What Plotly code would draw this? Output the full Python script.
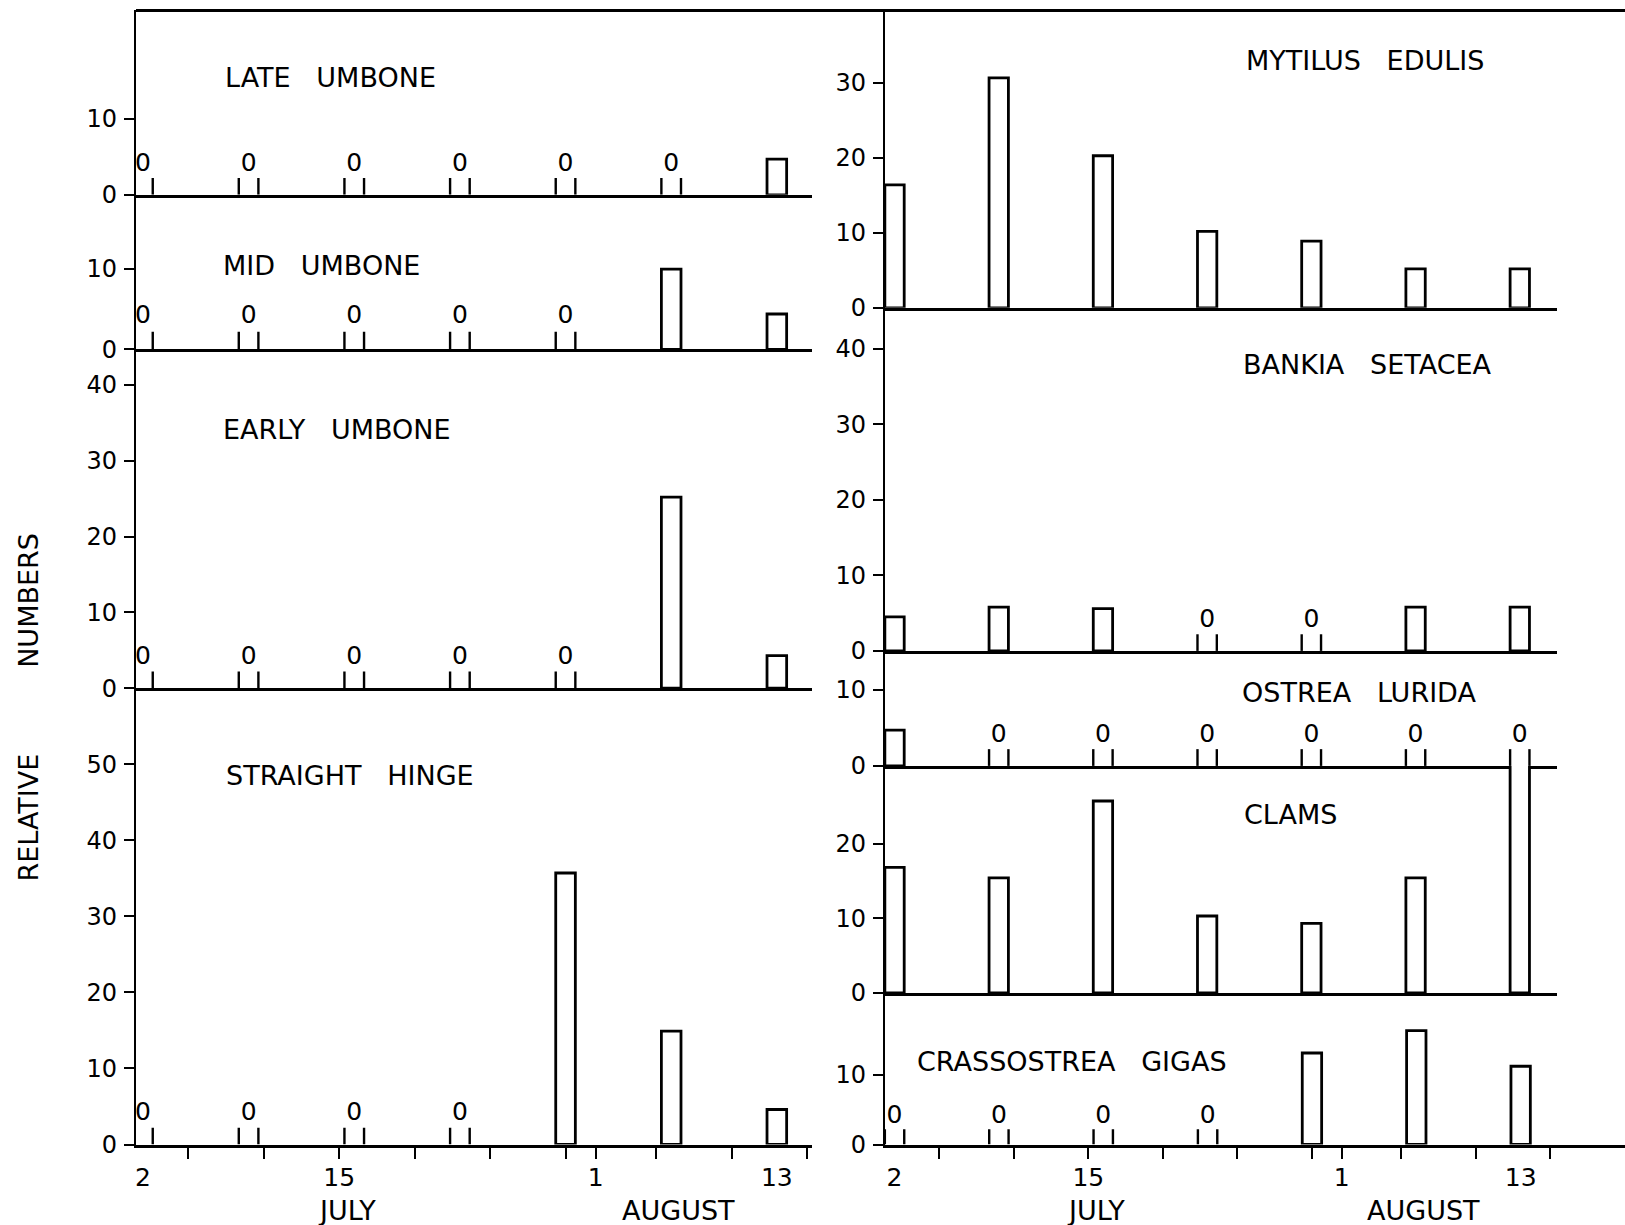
import plotly.graph_objects as go

# ---------------- data ----------------
# sampling dates expressed as day counted from 1 July (Aug d -> 31 + d)
sample_days = [2, 9, 16, 23, 30, 37, 44]          # Jul 2, 9, 16, 23, 30, Aug 6, 13
late_umbone = [0, 0, 0, 0, 0, 0, 4.7]
mid_umbone = [0, 0, 0, 0, 0, 10.0, 4.4]
early_umbone = [0, 0, 0, 0, 0, 25.2, 4.3]
straight_hinge = [0, 0, 0, 0, 35.7, 14.9, 4.6]
mytilus_edulis = [16.4, 30.7, 20.3, 10.2, 8.9, 5.2, 5.2]
bankia_setacea = [4.5, 5.8, 5.6, 0, 0, 5.8, 5.8]
ostrea_lurida = [4.7, 0, 0, 0, 0, 0, 0]
clams = [16.8, 15.4, 25.7, 10.3, 9.3, 15.4, 31.0]   # last value runs off scale
crassostrea_gigas = [0, 0, 0, 0, 13.1, 16.3, 11.2]

date_tick_days = [2, 15, 32, 44]
date_tick_text = ["2", "15", "1", "13"]
minor_tick_days = [5, 10, 15, 20, 25, 30, 32, 36, 41, 46]
month_names = ["JULY", "AUGUST"]
month_center_days = [15.5, 37.5]

# ---------------- layout helpers ----------------
W, H = 1625, 1225
FONT = "DejaVu Sans"
NB = "\u00a0"


def px_x(p):
    return p / W


def px_y(p):
    return 1 - p / H


BAR_W = 1.3
STUB_H = 2.2
ZERO_Y = 4.0

left_x = dict(domain=[px_x(136), px_x(812)], range=[1.54, 46.33])
right_x = dict(domain=[px_x(885), px_x(1557)], range=[1.36, 46.5])
right_x_wide = dict(domain=[px_x(885), 1.0], range=[1.36, 51.0])

GAP = NB * 3
panels = [
    dict(label="LATE" + GAP + "UMBONE", values=late_umbone, xa=left_x,
         ybot=194.8, ytop=10.4, ymax=24.3, yticks=[0, 10], lab=(223, 78), bottom=False),
    dict(label="MID" + GAP + "UMBONE", values=mid_umbone, xa=left_x,
         ybot=349.3, ytop=194.8, ymax=19.25, yticks=[0, 10], lab=(221, 266), bottom=False),
    dict(label="EARLY" + GAP + "UMBONE", values=early_umbone, xa=left_x,
         ybot=688.2, ytop=349.3, ymax=44.7, yticks=[0, 10, 20, 30, 40], lab=(221, 429), bottom=False),
    dict(label="STRAIGHT" + GAP + "HINGE", values=straight_hinge, xa=left_x,
         ybot=1144.5, ytop=688.2, ymax=60.0, yticks=[0, 10, 20, 30, 40, 50], lab=(224, 775), bottom=True),
    dict(label="MYTILUS" + GAP + "EDULIS", values=mytilus_edulis, xa=right_x,
         ybot=307.8, ytop=10.4, ymax=39.7, yticks=[0, 10, 20, 30], lab=(1244, 60), bottom=False),
    dict(label="BANKIA" + GAP + "SETACEA", values=bankia_setacea, xa=right_x,
         ybot=650.9, ytop=307.8, ymax=45.4, yticks=[0, 10, 20, 30, 40], lab=(1241, 364), bottom=False),
    dict(label="OSTREA" + GAP + "LURIDA", values=ostrea_lurida, xa=right_x,
         ybot=765.9, ytop=650.9, ymax=15.1, yticks=[0, 10], lab=(1240, 692), bottom=False),
    dict(label="CLAMS", values=clams, xa=right_x,
         ybot=992.9, ytop=765.9, ymax=30.4, yticks=[0, 10, 20], lab=(1242, 814), bottom=False),
    dict(label="CRASSOSTREA" + GAP + "GIGAS", values=crassostrea_gigas, xa=right_x_wide,
         ybot=1144.5, ytop=992.9, ymax=21.7, yticks=[0, 10], lab=(915, 1061), bottom=True),
]

fig = go.Figure()
layout = dict(
    width=W, height=H, margin=dict(l=0, r=0, t=0, b=0, autoexpand=False),
    paper_bgcolor="white", plot_bgcolor="rgba(0,0,0,0)",
    showlegend=False, font=dict(family=FONT, color="black"),
    annotations=[], shapes=[],
)

for i, p in enumerate(panels, start=1):
    xr, yr = f"x{i}", f"y{i}"
    days_pos = [d for d, v in zip(sample_days, p["values"]) if v > 0]
    vals_pos = [v for v in p["values"] if v > 0]
    days_zero = [d for d, v in zip(sample_days, p["values"]) if v == 0]

    fig.add_trace(go.Bar(
        x=days_pos, y=vals_pos, width=BAR_W, xaxis=xr, yaxis=yr,
        marker=dict(color="white", line=dict(color="black", width=2.8)),
        hoverinfo="skip"))

    if days_zero:
        sx, sy = [], []
        for d in days_zero:
            for e in (d - BAR_W / 2, d + BAR_W / 2):
                sx += [e, e, None]
                sy += [0, STUB_H, None]
        fig.add_trace(go.Scatter(
            x=sx, y=sy, mode="lines", xaxis=xr, yaxis=yr,
            line=dict(color="black", width=2.4), hoverinfo="skip"))
        fig.add_trace(go.Scatter(
            x=days_zero, y=[ZERO_Y] * len(days_zero), mode="text", text=["0"] * len(days_zero),
            textposition="middle center", textfont=dict(family=FONT, size=25, color="black"),
            xaxis=xr, yaxis=yr, cliponaxis=False, hoverinfo="skip"))

    xa = dict(domain=p["xa"]["domain"], range=p["xa"]["range"], anchor=yr,
              showline=True, linecolor="black", linewidth=3.2, showgrid=False,
              zeroline=False, fixedrange=True, automargin=False)
    if p["bottom"]:
        xa.update(tickmode="array", tickvals=date_tick_days, ticktext=date_tick_text,
                  ticks="", showticklabels=True, ticklabelstandoff=8,
                  tickfont=dict(family=FONT, size=25, color="black"),
                  minor=dict(tickmode="array", tickvals=minor_tick_days, ticks="outside",
                             ticklen=11, tickwidth=2, tickcolor="black"))
    else:
        xa.update(showticklabels=False, ticks="")
    layout[f"xaxis{i}"] = xa

    layout[f"yaxis{i}"] = dict(
        domain=[px_y(p["ybot"]), px_y(p["ytop"])], range=[0, p["ymax"]], anchor=xr,
        tickmode="array", tickvals=p["yticks"], ticks="outside", ticklen=10, tickwidth=2,
        tickcolor="black", showline=True, linecolor="black", linewidth=2.4,
        showgrid=False, zeroline=False, ticklabelstandoff=2, automargin=False,
        tickfont=dict(family=FONT, size=24, color="black"), fixedrange=True)

    layout["annotations"].append(dict(
        text=p["label"], x=px_x(p["lab"][0]), y=px_y(p["lab"][1]), xref="paper", yref="paper",
        xanchor="left", yanchor="middle", showarrow=False,
        font=dict(family=FONT, size=27, color="black")))

# month names under the two bottom axes
for xr in ("x4", "x9"):
    for name, d in zip(month_names, month_center_days):
        layout["annotations"].append(dict(
            text=name, x=d, xref=xr, y=px_y(1210), yref="paper", xanchor="center",
            yanchor="middle", showarrow=False, font=dict(family=FONT, size=27, color="black")))

# shared y-axis title
layout["annotations"].append(dict(
    text="RELATIVE" + NB * 10 + "NUMBERS", x=px_x(27.5), y=px_y(708), xref="paper", yref="paper",
    textangle=-90, showarrow=False, xanchor="center", yanchor="middle",
    font=dict(family=FONT, size=27, color="black")))

# top frame line
layout["shapes"].append(dict(type="line", xref="paper", yref="paper",
                             x0=px_x(136), x1=1.0, y0=px_y(10.4), y1=px_y(10.4),
                             line=dict(color="black", width=3)))

fig.update_layout(**layout)
fig.write_html("out.html")
